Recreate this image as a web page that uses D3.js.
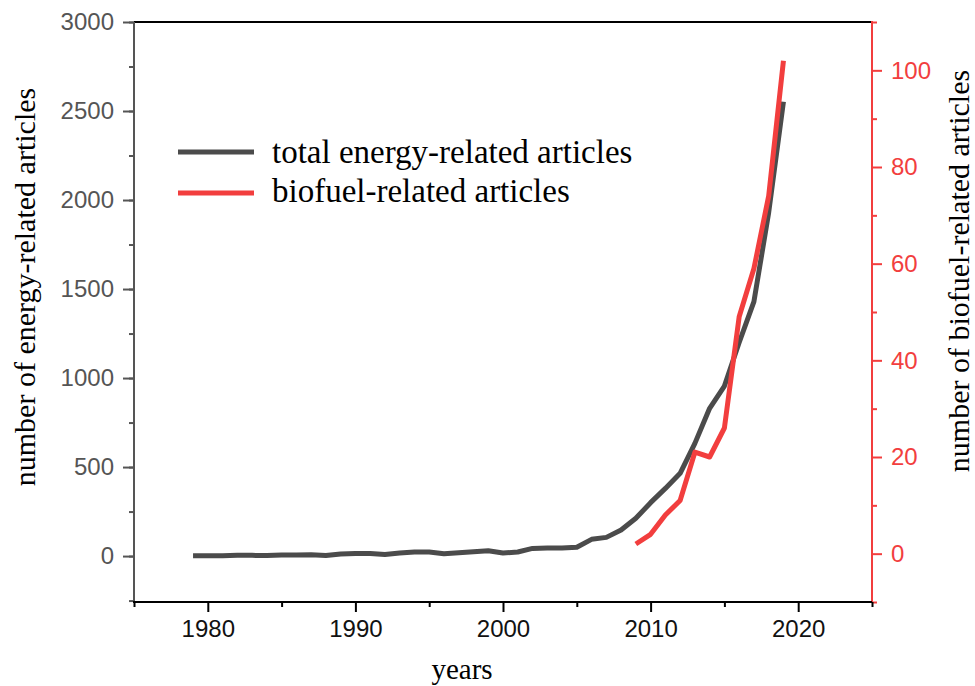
<!DOCTYPE html>
<html><head><meta charset="utf-8">
<script src="https://cdn.jsdelivr.net/npm/d3@7"></script>
<style>body{margin:0;background:#fff}svg{display:block}</style>
</head><body>
<script>
const years = d3.range(1979, 2020);
const totalArticles = [2,2,2,4,4,3,6,6,8,3,12,15,15,9,17,23,23,13,19,24,30,17,23,43,45,45,50,94,105,146,212,300,380,465,633,830,955,1200,1429,1930,2552];
const bioYears = d3.range(2009, 2020);
const bioArticles = [2,4,8,11,21,20,26,49,59,74,102];
const xTicks = [1980,1990,2000,2010,2020];
const leftTicks = [0,500,1000,1500,2000,2500,3000];
const rightTicks = [0,20,40,60,80,100];
const seriesNames = ["total energy-related articles","biofuel-related articles"];

const W=975,H=686, L=134,R=872,T=22,B=602;
const gray="#4b4b4b", red="#f23e3e", axGray="#555";
const svg=d3.select("body").append("svg").attr("width",W).attr("height",H);
const x=d3.scaleLinear().domain([1975,2025]).range([L,R]);
const yL=d3.scaleLinear().domain([-258,3000]).range([B,T]);
const yR=d3.scaleLinear().domain([-10,110]).range([B,T]);
const tickFont="'Liberation Sans', Arial, sans-serif", serif="'Liberation Serif','Times New Roman',serif";

// top frame
svg.append("line").attr("x1",L).attr("x2",R).attr("y1",T).attr("y2",T).attr("stroke","#000").attr("stroke-width",2);

// left axis
const gl=svg.append("g").attr("transform",`translate(${L},0)`);
gl.call(d3.axisLeft(yL).tickValues(d3.range(-250,3001,250)).tickSize(5).tickFormat(""));
gl.call(g=>g.select(".domain").remove());
gl.selectAll(".tick line").attr("stroke",axGray).attr("stroke-width",2);
const gl2=svg.append("g").attr("transform",`translate(${L},0)`).call(d3.axisLeft(yL).tickValues(leftTicks).tickSize(11).tickPadding(9).tickFormat(d3.format("d")));
gl2.select(".domain").remove();
gl2.selectAll(".tick line").attr("stroke",axGray).attr("stroke-width",2);
gl2.selectAll(".tick text").attr("fill",axGray).style("font-family",tickFont).style("font-size","24px");
svg.append("line").attr("x1",L).attr("x2",L).attr("y1",T).attr("y2",B+1).attr("stroke",axGray).attr("stroke-width",2);

// right axis
const gr=svg.append("g").attr("transform",`translate(${R},0)`);
gr.call(d3.axisRight(yR).tickValues(d3.range(-10,111,20)).tickSize(5).tickFormat(""));
gr.select(".domain").remove();
gr.selectAll(".tick line").attr("stroke",red).attr("stroke-width",2);
const gr2=svg.append("g").attr("transform",`translate(${R},0)`).call(d3.axisRight(yR).tickValues(rightTicks).tickSize(10).tickPadding(9));
gr2.select(".domain").remove();
gr2.selectAll(".tick line").attr("stroke",red).attr("stroke-width",2);
gr2.selectAll(".tick text").attr("fill",red).style("font-family",tickFont).style("font-size","24px");
svg.append("line").attr("x1",R).attr("x2",R).attr("y1",T-1).attr("y2",B+1).attr("stroke",red).attr("stroke-width",2);

// bottom axis
const gb=svg.append("g").attr("transform",`translate(0,${B})`);
gb.call(d3.axisBottom(x).tickValues(d3.range(1975,2026,10)).tickSize(5).tickFormat(""));
gb.select(".domain").remove();
gb.selectAll(".tick line").attr("stroke","#000").attr("stroke-width",2);
const gb2=svg.append("g").attr("transform",`translate(0,${B})`).call(d3.axisBottom(x).tickValues(xTicks).tickSize(10).tickPadding(8).tickFormat(d3.format("d")));
gb2.select(".domain").remove();
gb2.selectAll(".tick line").attr("stroke","#000").attr("stroke-width",2);
gb2.selectAll(".tick text").attr("fill","#111").style("font-family",tickFont).style("font-size","24px");
svg.append("line").attr("x1",L-1).attr("x2",R).attr("y1",B).attr("y2",B).attr("stroke","#000").attr("stroke-width",2);

// lines
const lineL=d3.line().x((d,i)=>x(years[i])).y(d=>yL(d));
svg.append("path").datum(totalArticles).attr("d",lineL).attr("fill","none").attr("stroke",gray).attr("stroke-width",5).attr("stroke-linejoin","round");
const lineR=d3.line().x((d,i)=>x(bioYears[i])).y(d=>yR(d));
svg.append("path").datum(bioArticles).attr("d",lineR).attr("fill","none").attr("stroke",red).attr("stroke-width",5).attr("stroke-linejoin","round");

// legend
const leg=svg.append("g");
[[gray,152,163],[red,193,202]].forEach(([c,ly,ty],i)=>{
  leg.append("line").attr("x1",178).attr("x2",254).attr("y1",ly).attr("y2",ly).attr("stroke",c).attr("stroke-width",5);
  leg.append("text").attr("x",272).attr("y",ty).text(seriesNames[i]).style("font-family",serif).style("font-size","33px").attr("fill","#000");
});

// titles
svg.append("text").attr("x",462).attr("y",679).attr("text-anchor","middle").text("years").style("font-family",serif).style("font-size","29px");
svg.append("text").attr("transform","translate(35,287) rotate(-90)").attr("text-anchor","middle").text("number of energy-related articles").style("font-family",serif).style("font-size","30px");
svg.append("text").attr("transform","translate(969,271) rotate(-90)").attr("text-anchor","middle").text("number of biofuel-related articles").style("font-family",serif).style("font-size","30px");
</script>
</body></html>
